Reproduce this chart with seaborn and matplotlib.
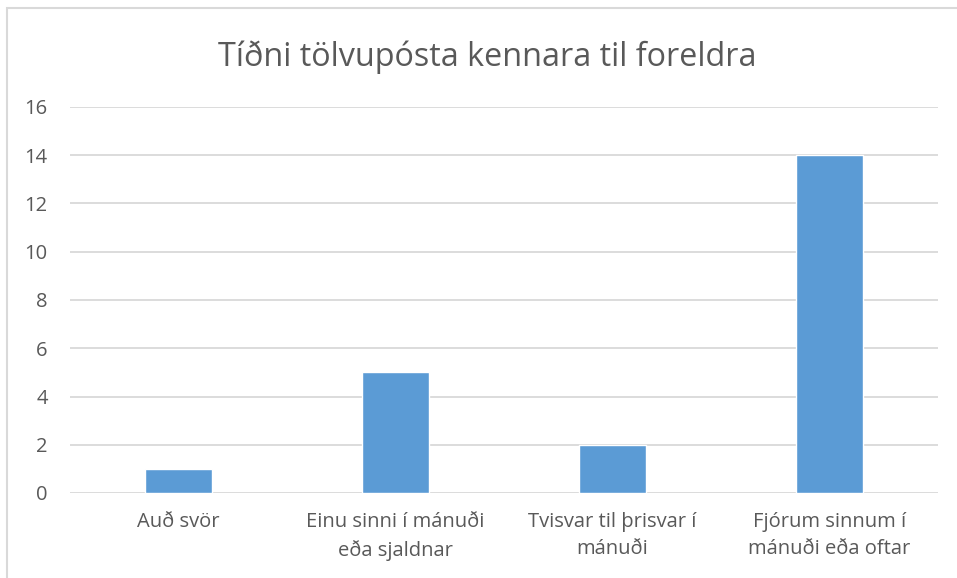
import matplotlib
matplotlib.use("Agg")
import matplotlib.pyplot as plt
import seaborn as sns
import pandas as pd
from matplotlib.patches import Rectangle

categories = [
    "Auð svör",
    "Einu sinni í mánuði\neða sjaldnar",
    "Tvisvar til þrisvar í\nmánuði",
    "Fjórum sinnum í\nmánuði eða oftar",
]
counts = [1, 5, 2, 14]
yticks = [0, 2, 4, 6, 8, 10, 12, 14, 16]

sns.set_style("white")
plt.rcParams["font.family"] = ["Open Sans", "DejaVu Sans"]

text_color = "#595959"
grid_color = "#D9D9D9"

df = pd.DataFrame({"category": categories, "count": counts})

fig = plt.figure(figsize=(9.57, 5.78), dpi=100)
ax = fig.add_axes([70 / 957, 1 - 493 / 578, 868 / 957, 386 / 578])

sns.barplot(data=df, x="category", y="count", color="#5B9BD5",
            width=0.313, saturation=1, ax=ax, zorder=3)

ax.set_ylim(0, 16)
ax.set_yticks(yticks)
ax.yaxis.grid(True, color=grid_color, linewidth=1.3, zorder=0)
ax.set_axisbelow(True)
for s in ax.spines.values():
    s.set_visible(False)
ax.tick_params(axis="both", length=0, colors=text_color, labelsize=14.5)
ax.tick_params(axis="x", pad=14)
ax.tick_params(axis="y", pad=16)
ax.set_xlabel("")
ax.set_ylabel("")
for lbl in ax.get_xticklabels():
    lbl.set_linespacing(1.45)

# title is centred on the full (uncropped) chart, a bit right of the image middle
fig.text(487 / 957, 1 - 57 / 578, "Tíðni tölvupósta kennara til foreldra",
         ha="center", va="center", fontsize=23.3, color=text_color)

# chart area border (cropped on right/bottom in the reference)
fig.patches.append(Rectangle((7 / 957, -0.1), 1.2, 1 - 8 / 578 + 0.1,
                             transform=fig.transFigure, fill=False,
                             edgecolor="#D9D9D9", linewidth=1.5))

fig.savefig("out.png", dpi=100)
